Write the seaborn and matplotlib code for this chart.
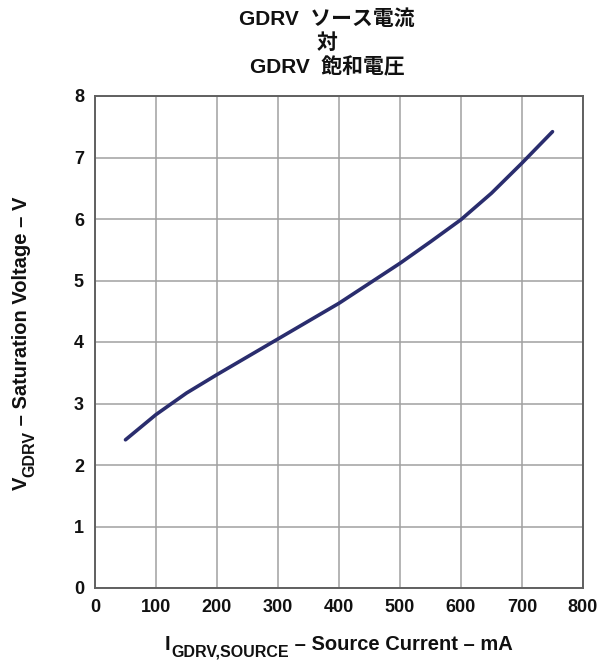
import matplotlib
matplotlib.use("Agg")
import matplotlib.pyplot as plt
import seaborn as sns
import pandas as pd

# данные
current_ma = [50, 100, 150, 200, 300, 400, 500, 550, 600, 650, 700, 750]
voltage_v = [2.41, 2.82, 3.17, 3.47, 4.05, 4.63, 5.28, 5.63, 5.99, 6.42, 6.91, 7.42]
x_ticks = [0, 100, 200, 300, 400, 500, 600, 700, 800]
y_ticks = [0, 1, 2, 3, 4, 5, 6, 7, 8]
title_lines = ["GDRV  ソース電流", "対", "GDRV  飽和電圧"]

sns.set_style("whitegrid")
plt.rcParams['font.family'] = ['Liberation Sans', 'Noto Sans CJK JP', 'DejaVu Sans']
plt.rcParams['font.weight'] = 'bold'
plt.rcParams['text.color'] = '#111111'
plt.rcParams['xtick.color'] = '#111111'
plt.rcParams['ytick.color'] = '#111111'

df = pd.DataFrame({"current": current_ma, "voltage": voltage_v})

W, H = 603, 665
fig = plt.figure(figsize=(W / 100, H / 100), dpi=100)
ax = fig.add_axes([95 / W, 77 / H, 488 / W, 492 / H])

sns.lineplot(data=df, x="current", y="voltage", ax=ax, color="#2a2d6e", linewidth=2.6)

ax.set_xlim(0, 800)
ax.set_ylim(0, 8)
ax.set_xticks(x_ticks)
ax.set_yticks(y_ticks)
ax.tick_params(axis='both', length=0, labelsize=13, pad=8, labelcolor='#111111')
for lab in ax.get_xticklabels() + ax.get_yticklabels():
    lab.set_fontweight('bold')
ax.set_xlabel("")
ax.set_ylabel("")

ax.grid(True, color="#a0a0a0", linewidth=1.1)
for s in ax.spines.values():
    s.set_color("#606060")
    s.set_linewidth(1.4)

# подпись оси X: I с подстрочным индексом
main_fs, sub_fs = 14.5, 11.5
t_i = fig.text(165 / W, 1 - 650 / H, "I", fontsize=main_fs, fontweight='bold',
               ha='left', va='baseline')
t_isub = ax.annotate("GDRV,SOURCE", xy=(1, 0), xycoords=t_i, xytext=(0.5, -4.3),
                     textcoords='offset points', ha='left', va='bottom',
                     fontsize=sub_fs, fontweight='bold', annotation_clip=False)
ax.annotate(" – Source Current – mA", xy=(1, 0), xycoords=(t_isub, t_i),
            ha='left', va='bottom', fontsize=main_fs, fontweight='bold',
            annotation_clip=False)

# подпись оси Y: V с подстрочным индексом, повернута
t_v = fig.text(31 / W, 1 - 490 / H, "V", rotation=90, fontsize=main_fs,
               fontweight='bold', ha='right', va='bottom')
t_vsub = ax.annotate("GDRV", xy=(1, 1), xycoords=t_v, xytext=(4.3, 0),
                     textcoords='offset points', ha='right', va='bottom',
                     rotation=90, fontsize=sub_fs, fontweight='bold',
                     annotation_clip=False)
ax.annotate(" – Saturation Voltage – V", xy=(1, 1), xycoords=(t_v, t_vsub),
            ha='right', va='bottom', rotation=90, fontsize=main_fs,
            fontweight='bold', annotation_clip=False)

for i, t in enumerate(title_lines):
    fig.text(327 / W, 1 - (19 + 24 * i) / H, t, ha='center', va='center',
             fontsize=15, fontweight='bold')

fig.savefig("out.png", dpi=100)
